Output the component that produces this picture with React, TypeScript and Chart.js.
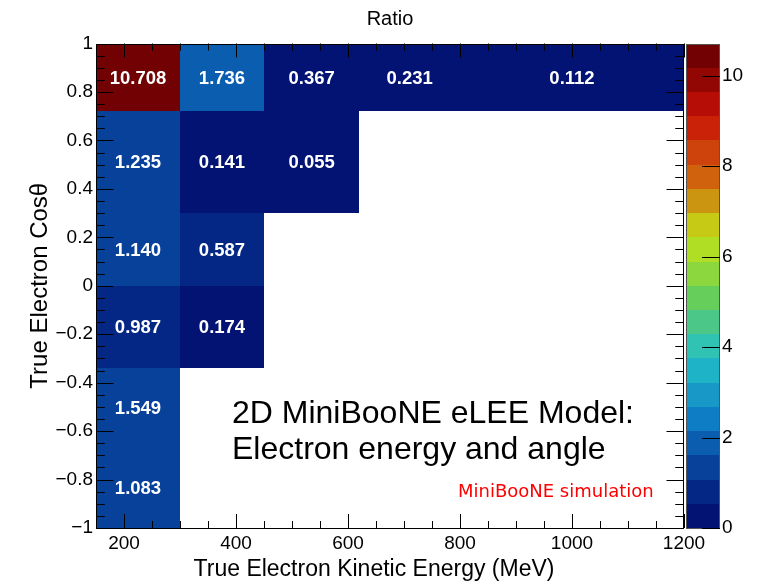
import React, { useEffect, useRef } from "react";
import { Chart, registerables } from "chart.js";

Chart.register(...registerables);

// Bin edges of the 2D histogram
const energyEdges = [150, 300, 450, 620, 800, 1200];
const cosEdges = [-1, -0.67, -0.34, 0, 0.3, 0.72, 1];

// Ratio per cos(theta) row, bottom row first; one entry per energy bin (null = empty bin)
const ratioCosM100toM067 = [1.083, null, null, null, null];
const ratioCosM067toM034 = [1.549, null, null, null, null];
const ratioCosM034to000 = [0.987, 0.174, null, null, null];
const ratioCos000to030 = [1.14, 0.587, null, null, null];
const ratioCos030to072 = [1.235, 0.141, 0.055, null, null];
const ratioCos072to100 = [10.708, 1.736, 0.367, 0.231, 0.112];

const ratioRows = [
  ratioCosM100toM067,
  ratioCosM067toM034,
  ratioCosM034to000,
  ratioCos000to030,
  ratioCos030to072,
  ratioCos072to100,
];

// Axis tick labels
const energyTicks = [200, 400, 600, 800, 1000, 1200];
const cosTicks = [-1, -0.8, -0.6, -0.4, -0.2, 0, 0.2, 0.4, 0.6, 0.8, 1];
const ratioTicks = [0, 2, 4, 6, 8, 10];

const energyMinorStep = 50;
const cosMinorStep = 0.05;
const nContours = 20;

const zMax = Math.max(...ratioRows.flat().filter((v): v is number => v !== null));

// ROOT kRainBow gradient table (255 colours)
const rainbowStops = [0, 0.125, 0.25, 0.375, 0.5, 0.625, 0.75, 0.875, 1];
const rainbowRed = [0, 5, 15, 35, 102, 196, 208, 199, 110];
const rainbowGreen = [0, 48, 124, 192, 206, 226, 97, 16, 0];
const rainbowBlue = [99, 142, 198, 201, 90, 22, 13, 8, 2];

function buildPalette(nColors: number): string[] {
  const out: string[] = [];
  for (let g = 1; g < rainbowStops.length; g++) {
    const n = Math.floor(nColors * rainbowStops[g]) - Math.floor(nColors * rainbowStops[g - 1]);
    for (let c = 0; c < n; c++) {
      const r = rainbowRed[g - 1] + (c * (rainbowRed[g] - rainbowRed[g - 1])) / n;
      const gr = rainbowGreen[g - 1] + (c * (rainbowGreen[g] - rainbowGreen[g - 1])) / n;
      const b = rainbowBlue[g - 1] + (c * (rainbowBlue[g] - rainbowBlue[g - 1])) / n;
      out.push(`rgb(${Math.round(r)},${Math.round(gr)},${Math.round(b)})`);
    }
  }
  return out;
}

const palette = buildPalette(255);
const levelColor = (level: number) =>
  palette[Math.min(palette.length - 1, Math.floor(((level + 0.99) * palette.length) / nContours))];
const colorForValue = (v: number) => {
  const level = Math.min(nContours - 1, Math.floor(0.01 + (v * nContours) / zMax));
  return levelColor(level);
};

const FONT = "'Liberation Sans', Arial, Helvetica, sans-serif";

const fmtCos = (v: number) => {
  const s = Math.abs(v) < 1e-9 ? "0" : Number.isInteger(v) ? String(v) : v.toFixed(1);
  return s.replace("-", "\u2212");
};

const minorValues = (min: number, max: number, step: number, majors: number[]) => {
  const vals: number[] = [];
  const start = Math.ceil(min / step - 1e-9);
  const end = Math.floor(max / step + 1e-9);
  for (let i = start; i <= end; i++) {
    const v = i * step;
    if (v <= min + 1e-9 || v >= max - 1e-9) continue;
    if (majors.some((m) => Math.abs(m - v) < 1e-9)) continue;
    vals.push(v);
  }
  return vals;
};

const histPlugin = {
  id: "hist2d",
  beforeDatasetsDraw(chart: any) {
    const { ctx, chartArea, scales } = chart;
    const xs = scales.x;
    const ys = scales.y;
    ctx.save();
    ctx.beginPath();
    ctx.rect(chartArea.left, chartArea.top, chartArea.right - chartArea.left, chartArea.bottom - chartArea.top);
    ctx.clip();
    ratioRows.forEach((row, j) => {
      row.forEach((v, i) => {
        if (v === null) return;
        const x0 = Math.round(xs.getPixelForValue(energyEdges[i]));
        const x1 = Math.round(xs.getPixelForValue(energyEdges[i + 1]));
        const y0 = Math.round(ys.getPixelForValue(cosEdges[j + 1]));
        const y1 = Math.round(ys.getPixelForValue(cosEdges[j]));
        ctx.fillStyle = colorForValue(v);
        ctx.fillRect(x0, y0, x1 - x0, y1 - y0);
      });
    });
    ctx.restore();
  },
  afterDatasetsDraw(chart: any) {
    const { ctx, chartArea, scales } = chart;
    const xs = scales.x;
    const ys = scales.y;
    const zs = scales.z;
    const { left, right, top, bottom } = chartArea;

    ctx.save();
    // frame
    ctx.strokeStyle = "#000";
    ctx.lineWidth = 1;
    ctx.strokeRect(Math.round(left) + 0.5, Math.round(top) + 0.5, Math.round(right - left) - 1, Math.round(bottom - top) - 1);

    // ticks pointing inward on all four sides
    const xMajorLen = 14;
    const yMajorLen = 17.5;
    ctx.beginPath();
    const xMinor = minorValues(energyEdges[0], energyEdges[energyEdges.length - 1], energyMinorStep, energyTicks);
    const xTick = (v: number, len: number) => {
      const px = Math.round(xs.getPixelForValue(v)) + 0.5;
      ctx.moveTo(px, bottom);
      ctx.lineTo(px, bottom - len);
      ctx.moveTo(px, top);
      ctx.lineTo(px, top + len);
    };
    energyTicks.forEach((v) => xTick(v, xMajorLen));
    xMinor.forEach((v) => xTick(v, xMajorLen / 2));
    const yMinor = minorValues(cosEdges[0], cosEdges[cosEdges.length - 1], cosMinorStep, cosTicks);
    const yTick = (v: number, len: number) => {
      const py = Math.round(ys.getPixelForValue(v)) + 0.5;
      ctx.moveTo(left, py);
      ctx.lineTo(left + len, py);
      ctx.moveTo(right, py);
      ctx.lineTo(right - len, py);
    };
    cosTicks.forEach((v) => yTick(v, yMajorLen));
    yMinor.forEach((v) => yTick(v, yMajorLen / 2));
    ctx.stroke();

    // bin content labels
    ctx.fillStyle = "#fff";
    ctx.font = `bold 18.5px ${FONT}`;
    ctx.textAlign = "center";
    ctx.textBaseline = "middle";
    ratioRows.forEach((row, j) => {
      row.forEach((v, i) => {
        if (v === null) return;
        const cx = xs.getPixelForValue((energyEdges[i] + energyEdges[i + 1]) / 2);
        const cy = ys.getPixelForValue((cosEdges[j] + cosEdges[j + 1]) / 2);
        ctx.fillText(v.toFixed(3), cx, cy + 1);
      });
    });

    // colour bar
    const barL = Math.round(zs.left) + 2;
    const barR = Math.round(zs.left) + 36;
    for (let k = 0; k < nContours; k++) {
      const ya = Math.round(zs.getPixelForValue((zMax * k) / nContours));
      const yb = Math.round(zs.getPixelForValue((zMax * (k + 1)) / nContours));
      ctx.fillStyle = levelColor(k);
      ctx.fillRect(barL, yb, barR - barL, ya - yb);
    }
    ctx.strokeStyle = "#555";
    ctx.strokeRect(barL + 0.5, Math.round(top) + 0.5, barR - barL - 1, Math.round(bottom - top) - 1);
    ctx.strokeStyle = "#000";
    ctx.beginPath();
    ratioTicks.forEach((v) => {
      const py = Math.round(zs.getPixelForValue(v)) + 0.5;
      ctx.moveTo(barR, py);
      ctx.lineTo(barR - 18, py);
    });
    ctx.stroke();

    // x axis title
    ctx.fillStyle = "#000";
    ctx.font = `23px ${FONT}`;
    ctx.textAlign = "center";
    ctx.textBaseline = "middle";
    ctx.fillText("True Electron Kinetic Energy (MeV)", left + 278, chart.height - 16);

    // annotations
    ctx.textAlign = "left";
    ctx.textBaseline = "alphabetic";
    ctx.font = `32px ${FONT}`;
    ctx.fillText("2D MiniBooNE eLEE Model:", left + 136, top + 379);
    ctx.fillText("Electron energy and angle", left + 136, top + 415);
    ctx.fillStyle = "#ff0000";
    ctx.font = `18px 'DejaVu Sans', sans-serif`;
    ctx.textBaseline = "middle";
    ctx.fillText("MiniBooNE simulation", left + 362, top + 449);
    ctx.restore();
  },
};

export default function App() {
  const ref = useRef<HTMLCanvasElement>(null);
  useEffect(() => {
    if (!ref.current) return;
    const tickFont = { family: FONT, size: 19 };
    const chart = new Chart(ref.current, {
      type: "scatter",
      data: { datasets: [] },
      options: {
        responsive: false,
        animation: false,
        events: [],
        layout: { padding: 0 },
        plugins: {
          legend: { display: false },
          tooltip: { enabled: false },
          title: {
            display: true,
            text: "Ratio",
            fullSize: false,
            color: "#000",
            font: { family: FONT, size: 20, weight: "normal" },
            padding: { top: 7, bottom: 12.5 },
          },
        },
        scales: {
          x: {
            type: "linear",
            position: "bottom",
            min: energyEdges[0],
            max: energyEdges[energyEdges.length - 1],
            grid: { display: false, drawTicks: false },
            border: { display: false },
            afterBuildTicks: (s: any) => {
              s.ticks = energyTicks.map((value) => ({ value }));
            },
            afterFit: (s: any) => {
              s.height = 58;
            },
            ticks: {
              autoSkip: false,
              maxRotation: 0,
              color: "#000",
              font: tickFont,
              padding: 4,
              callback: (v: any) => String(v),
            },
            title: { display: false },
          },
          y: {
            type: "linear",
            position: "left",
            min: cosEdges[0],
            max: cosEdges[cosEdges.length - 1],
            grid: { display: false, drawTicks: false },
            border: { display: false },
            afterBuildTicks: (s: any) => {
              s.ticks = cosTicks.map((value) => ({ value }));
            },
            afterFit: (s: any) => {
              s.width = 96;
            },
            ticks: {
              autoSkip: false,
              color: "#000",
              font: tickFont,
              padding: 3,
              callback: (v: any) => fmtCos(Number(v)),
            },
            title: {
              display: true,
              text: "True Electron Cos\u03b8",
              color: "#000",
              font: { family: FONT, size: 24 },
              padding: { top: 25.5, bottom: 0 },
            },
          },
          z: {
            type: "linear",
            axis: "y",
            position: "right",
            min: 0,
            max: zMax,
            grid: { display: false, drawTicks: true, tickLength: 36 },
            border: { display: false },
            afterBuildTicks: (s: any) => {
              s.ticks = ratioTicks.map((value) => ({ value }));
            },
            afterFit: (s: any) => {
              s.width = 81;
            },
            ticks: {
              autoSkip: false,
              color: "#000",
              font: tickFont,
              padding: 2,
              callback: (v: any) => String(v),
            },
          },
        },
      },
      plugins: [histPlugin],
    } as any);
    return () => chart.destroy();
  }, []);

  return (
    <div style={{ position: "absolute", left: 0, top: 0, width: 765, height: 586, background: "#fff" }}>
      <canvas ref={ref} width={765} height={586} style={{ display: "block", width: 765, height: 586 }} />
    </div>
  );
}
